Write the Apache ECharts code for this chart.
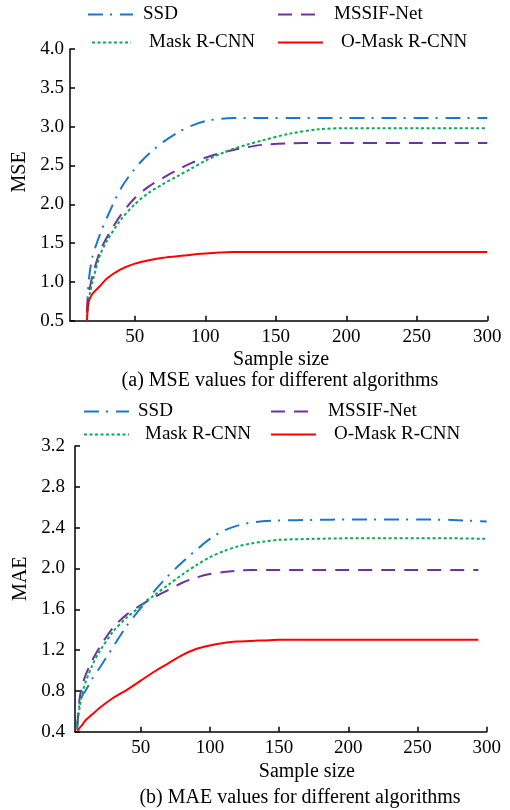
<!DOCTYPE html>
<html><head><meta charset="utf-8">
<script src="https://cdn.jsdelivr.net/npm/echarts@6/dist/echarts.min.js"></script>
<style>html,body{margin:0;padding:0;background:#fff}#c{width:510px;height:810px}</style>
</head><body><div id="c"></div>
<script>
// ---- Data: (a) MSE ----
const mseX      = [16, 17, 18, 20, 25, 30, 40, 50, 60, 70, 80, 90, 100, 110, 120, 130, 140, 160, 180, 200, 225, 250, 275, 300];
const mseSSD    = [0.62, 0.95, 1.12, 1.33, 1.60, 1.82, 2.20, 2.46, 2.65, 2.80, 2.92, 3.01, 3.07, 3.10, 3.11, 3.11, 3.11, 3.11, 3.11, 3.11, 3.11, 3.11, 3.11, 3.11];
const mseMSSIF  = [0.60, 0.80, 0.92, 1.08, 1.38, 1.57, 1.86, 2.08, 2.23, 2.34, 2.44, 2.53, 2.60, 2.655, 2.70, 2.735, 2.765, 2.785, 2.79, 2.79, 2.79, 2.79, 2.79, 2.79];
const mseMask   = [0.55, 0.70, 0.84, 1.00, 1.33, 1.52, 1.80, 2.00, 2.15, 2.26, 2.36, 2.46, 2.56, 2.645, 2.715, 2.77, 2.82, 2.91, 2.965, 2.98, 2.98, 2.98, 2.98, 2.98];
const mseOMask  = [0.50, 0.72, 0.78, 0.85, 0.94, 1.04, 1.16, 1.235, 1.28, 1.31, 1.33, 1.35, 1.365, 1.377, 1.385, 1.385, 1.385, 1.385, 1.385, 1.385, 1.385, 1.385, 1.385, 1.385];

// ---- Data: (b) MAE ----
const maeX      = [4, 6, 8, 10, 15, 20, 30, 40, 50, 60, 70, 80, 90, 100, 110, 120, 130, 140, 150, 175, 200, 225, 250, 275, 300];
const maeXShort = [4, 6, 8, 10, 15, 20, 30, 40, 50, 60, 70, 80, 90, 100, 110, 120, 130, 140, 150, 175, 200, 225, 250, 275, 294];
const maeSSD    = [0.42, 0.70, 0.76, 0.80, 0.92, 1.02, 1.23, 1.44, 1.61, 1.78, 1.93, 2.06, 2.18, 2.29, 2.37, 2.42, 2.45, 2.465, 2.47, 2.475, 2.48, 2.48, 2.48, 2.475, 2.46];
const maeMSSIF  = [0.45, 0.74, 0.86, 0.95, 1.10, 1.22, 1.42, 1.55, 1.64, 1.72, 1.79, 1.86, 1.91, 1.945, 1.965, 1.978, 1.985, 1.985, 1.985, 1.985, 1.985, 1.985, 1.985, 1.985, 1.985];
const maeMask   = [0.45, 0.65, 0.78, 0.88, 1.05, 1.18, 1.38, 1.52, 1.63, 1.74, 1.84, 1.94, 2.03, 2.11, 2.17, 2.215, 2.245, 2.265, 2.28, 2.29, 2.295, 2.295, 2.295, 2.295, 2.29];
const maeOMask  = [0.40, 0.44, 0.47, 0.51, 0.57, 0.63, 0.73, 0.81, 0.90, 0.99, 1.07, 1.15, 1.21, 1.245, 1.27, 1.283, 1.29, 1.295, 1.30, 1.30, 1.30, 1.30, 1.30, 1.30, 1.30];

const xTicks = [50, 100, 150, 200, 250, 300];
const names = ['SSD', 'MSSIF-Net', 'Mask R-CNN', 'O-Mask R-CNN'];
const captions = ['(a) MSE values for different algorithms', '(b) MAE values for different algorithms'];

const FONT = 'Liberation Serif';
const colors = {'SSD': '#1a78cc', 'MSSIF-Net': '#7030a0', 'Mask R-CNN': '#00b050', 'O-Mask R-CNN': '#ff0000'};
const dashes = {'SSD': [15, 7, 2, 8], 'MSSIF-Net': [14, 9], 'Mask R-CNN': [3, 2.5], 'O-Mask R-CNN': 'solid'};

const zip = (xs, ys) => ys.map((v, i) => [xs[i], v]);

function mkSeries(name, xs, ys, idx) {
  return {
    name: name, type: 'line', xAxisIndex: idx, yAxisIndex: idx,
    data: zip(xs, ys), symbol: 'none', showSymbol: false, smooth: 0.3,
    lineStyle: {color: colors[name], width: 2, type: dashes[name]},
    itemStyle: {color: colors[name]},
    emphasis: {disabled: true}, animation: false
  };
}

const axisCommon = {
  axisLine: {show: true, onZero: false, lineStyle: {color: '#000', width: 1.5}},
  axisTick: {show: true, inside: true, length: 5, lineStyle: {color: '#000', width: 1.5}},
  splitLine: {show: false},
};

function xAxisDef(idx, min, namePad, nameGap) {
  return Object.assign({}, axisCommon, {
    type: 'value', gridIndex: idx, min: min, max: 300,
    axisTick: Object.assign({}, axisCommon.axisTick, {customValues: xTicks}),
    axisLabel: {customValues: xTicks, color: '#000', fontFamily: FONT, fontSize: 19, margin: 7},
    name: 'Sample size', nameLocation: 'middle', nameGap: nameGap,
    nameTextStyle: {color: '#000', fontFamily: FONT, fontSize: 20, padding: [0, 0, 0, namePad]}
  });
}
function yAxisDef(idx, min, max, step, name, margin, nameGap, namePad) {
  return Object.assign({}, axisCommon, {
    type: 'value', gridIndex: idx, min: min, max: max, interval: step,
    axisLabel: {color: '#000', fontFamily: FONT, fontSize: 19, margin: margin, formatter: v => v.toFixed(1)},
    name: name, nameLocation: 'middle', nameGap: nameGap,
    nameTextStyle: {color: '#000', fontFamily: FONT, fontSize: 20, padding: [0, 0, 0, namePad]}
  });
}

function legendDef(name, left, top, w, pad) {
  return {
    data: [name], left: left, top: top, itemWidth: w, itemHeight: 12, padding: 0,
    selectedMode: false,
    itemStyle: {opacity: 0},
    textStyle: {color: '#000', fontFamily: FONT, fontSize: 19, padding: [0, 0, 0, pad]}
  };
}

const chart = echarts.init(document.getElementById('c'), null, {renderer: 'canvas'});
chart.setOption({
  animation: false,
  backgroundColor: '#fff',
  grid: [
    {left: 70, right: 22.7, top: 49, bottom: 489.3},
    {left: 75, right: 23.3, top: 446, bottom: 78.3}
  ],
  xAxis: [xAxisDef(0, 4, 5, 29), xAxisDef(1, 2.5, 52, 30)],
  yAxis: [yAxisDef(0, 0.5, 4.0, 0.5, 'MSE', 6, 32, 26), yAxisDef(1, 0.4, 3.2, 0.4, 'MAE', 10, 32, 20)],
  legend: [
    legendDef('SSD', 87, 5, 45, 5),
    legendDef('MSSIF-Net', 277, 5, 37, 14),
    legendDef('Mask R-CNN', 91, 33, 39, 13),
    legendDef('O-Mask R-CNN', 277, 33, 45, 13),
    legendDef('SSD', 83, 402, 45, 4),
    legendDef('MSSIF-Net', 270, 402, 38, 14),
    legendDef('Mask R-CNN', 83, 425, 45, 11),
    legendDef('O-Mask R-CNN', 270, 425, 45, 13)
  ],
  title: [
    {text: captions[0], left: 280, top: 371, textAlign: 'center', padding: 0,
     textStyle: {color: '#000', fontFamily: FONT, fontSize: 20, fontWeight: 'normal'}},
    {text: captions[1], left: 300, top: 788, textAlign: 'center', padding: 0,
     textStyle: {color: '#000', fontFamily: FONT, fontSize: 20, fontWeight: 'normal'}}
  ],
  series: [
    mkSeries('SSD', mseX, mseSSD, 0),
    mkSeries('MSSIF-Net', mseX, mseMSSIF, 0),
    mkSeries('Mask R-CNN', mseX, mseMask, 0),
    mkSeries('O-Mask R-CNN', mseX, mseOMask, 0),
    mkSeries('SSD', maeX, maeSSD, 1),
    mkSeries('MSSIF-Net', maeXShort, maeMSSIF, 1),
    mkSeries('Mask R-CNN', maeX, maeMask, 1),
    mkSeries('O-Mask R-CNN', maeXShort, maeOMask, 1)
  ]
});
</script></body></html>
